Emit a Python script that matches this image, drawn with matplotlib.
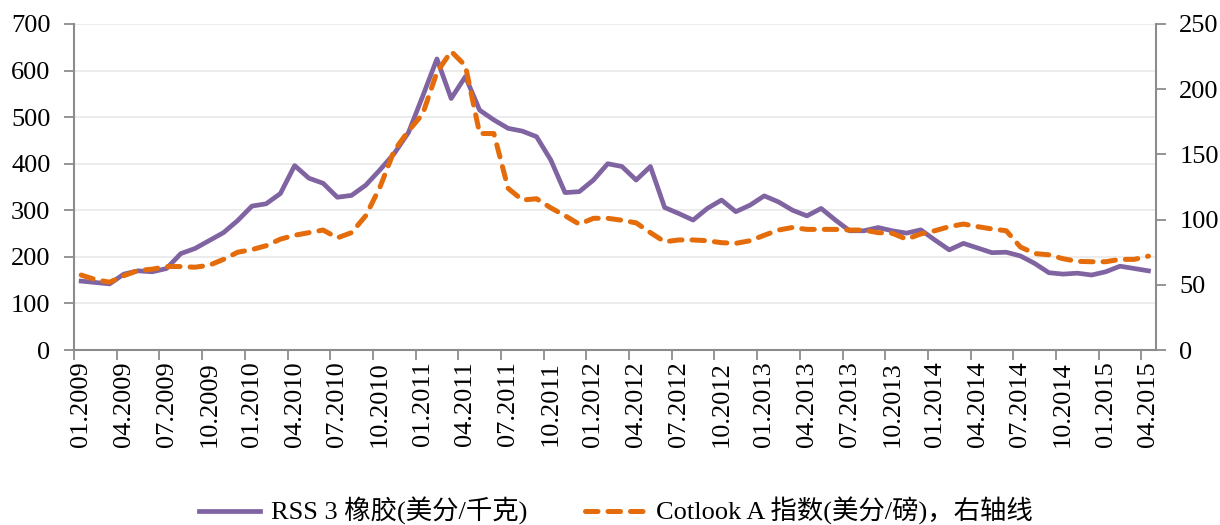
import matplotlib
matplotlib.use("Agg")
import matplotlib.pyplot as plt
import numpy as np

plt.rcParams['font.family'] = ['Liberation Serif', 'Noto Sans CJK SC']

# Monthly data, 01.2009 - 04.2015
MONTHS = [f"{m:02d}.{y}" for y in range(2009, 2016) for m in range(1, 13)][:76]

RSS3 = [148, 145, 142, 163, 170, 168, 175, 207, 218, 235,
        252, 278, 309, 314, 336, 396, 369, 358, 328, 332,
        354, 387, 422, 467, 545, 625, 540, 587, 515, 494,
        476, 470, 458, 408, 338, 340, 365, 400, 394, 365,
        394, 306, 293, 279, 304, 322, 297, 311, 331, 318,
        300, 288, 304, 279, 256, 256, 263, 256, 251, 258,
        236, 215, 229, 219, 209, 210, 202, 186, 166, 163,
        165, 161, 168, 180, 175, 170]

COTLOOK_A = [57.5, 54, 52, 57, 61, 62, 64, 64, 63.5, 65,
             69.5, 75, 77, 80, 85, 88, 90, 92, 86, 90,
             103, 125, 153, 168, 181, 213, 229, 218, 166, 166,
             124, 115, 116, 109, 103, 96.5, 101, 101, 99.5, 97.5,
             90, 83, 84.4, 84.4, 83.8, 82.3, 81.8, 83.8, 88, 92,
             94, 92.5, 92.5, 92.5, 92, 92, 90, 89.5, 85, 89,
             91.5, 94.6, 96.6, 94.6, 92.8, 91.5, 79, 74, 73, 70,
             68, 67.7, 67.7, 69.5, 69.5, 72]

LABEL_RSS = "RSS 3 橡胶(美分/千克)"
LABEL_COT = "Cotlook A 指数(美分/磅)，右轴线"

PURPLE = "#8064A2"
ORANGE = "#E46C0A"
AXIS_GRAY = "#8C8C8C"
GRID_GRAY = "#EBEBEB"
FS = 19

x = np.arange(len(MONTHS))

fig = plt.figure(figsize=(12.2, 5.25), dpi=100)
ax = fig.add_axes([0.0607, 0.3333, 0.8865, 0.621])
ax2 = ax.twinx()

ax.plot(x, RSS3, color=PURPLE, lw=3.4, label=LABEL_RSS, zorder=3)
ax2.plot(x, COTLOOK_A, color=ORANGE, lw=3.6, dashes=(2.5, 2.0), dash_capstyle='round',
         label=LABEL_COT, zorder=3)

ax.set_xlim(-0.5, len(MONTHS) - 0.5)
ax.set_ylim(0, 700)
ax2.set_ylim(0, 250)
ax.set_yticks(range(0, 701, 100))
ax2.set_yticks(range(0, 251, 50))

# ticks between categories, labels on every third category
ax.set_xticks(np.arange(0, len(MONTHS), 3) - 0.5)
ax.set_xticklabels([])
ax.set_xticks(np.arange(0, len(MONTHS), 3), minor=True)
ax.set_xticklabels(MONTHS[::3], minor=True, rotation=90, fontsize=FS)
ax.tick_params(axis='x', which='minor', length=0, pad=8)
ax.tick_params(axis='x', which='major', length=7, width=1.3, color=AXIS_GRAY, direction='out')

ax.tick_params(axis='y', length=7, width=1.3, color=AXIS_GRAY, labelsize=FS, pad=10)
ax2.tick_params(axis='y', length=7, width=1.3, color=AXIS_GRAY, labelsize=FS, pad=10)

ax.grid(axis='y', color=GRID_GRAY, lw=1.3)
ax.set_axisbelow(True)

for a in (ax, ax2):
    a.spines['top'].set_visible(False)
    for s in ('left', 'bottom', 'right'):
        a.spines[s].set_color(AXIS_GRAY)
        a.spines[s].set_linewidth(1.5)
ax.spines['right'].set_visible(False)
ax2.spines['left'].set_visible(False)
ax2.spines['bottom'].set_visible(False)

h1, l1 = ax.get_legend_handles_labels()
h2, l2 = ax2.get_legend_handles_labels()
fig.legend(h1 + h2, l1 + l2, loc='center', bbox_to_anchor=(0.505, 0.026), ncol=2,
           frameon=False, fontsize=FS, handlelength=2.3, handletextpad=0.4,
           columnspacing=2.2)

fig.savefig("out.png", dpi=100)
